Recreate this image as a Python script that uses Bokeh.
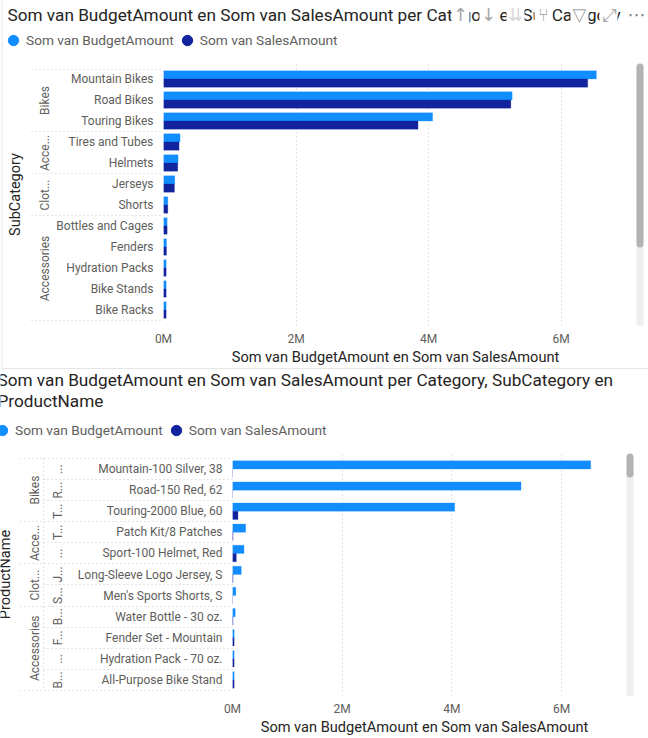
from bokeh.plotting import figure
from bokeh.layouts import column
from bokeh.embed import file_html
from bokeh.resources import INLINE
from bokeh.core.properties import value
from bokeh.models import (ColumnDataSource, FactorRange, FixedTicker, Legend, LegendItem, Range1d)
from bokeh.transform import dodge
import math

FONT = "Roboto"
BLUE = "#118DFF"
NAVY = "#12239E"
TICK = "#605E5C"
DARK = "#252423"
SEP = "#C8C8C8"

TITLE_1 = "Som van BudgetAmount en Som van SalesAmount per Category en SubCategory"
TITLE_2 = "Som van BudgetAmount en Som van SalesAmount per Category, SubCategory en\nProductName"
X_TITLE = "Som van BudgetAmount en Som van SalesAmount"
SERIES = ["Som van BudgetAmount", "Som van SalesAmount"]
X_TICKS = [0, 2000000, 4000000, 6000000]
X_LABELS = ["0M", "2M", "4M", "6M"]

groups_1 = [("Bikes", 3), ("Acce...", 2), ("Clot...", 2), ("Accessories", 5)]
subcats_1 = ["Mountain Bikes", "Road Bikes", "Touring Bikes", "Tires and Tubes", "Helmets",
             "Jerseys", "Shorts", "Bottles and Cages", "Fenders", "Hydration Packs",
             "Bike Stands", "Bike Racks"]
budget_1 = [6530000, 5260000, 4060000, 250000, 220000, 170000, 65000, 55000, 45000, 40000, 40000, 40000]
sales_1 = [6400000, 5240000, 3840000, 235000, 215000, 165000, 65000, 55000, 45000, 40000, 40000, 40000]

groups_2 = [("Bikes", 3), ("Acce...", 2), ("Clot...", 2), ("Accessories", 4)]
subs_2 = ["...", "R...", "T...", "T...", "...", "J...", "S...", "B...", "F...", "...", "B..."]
products_2 = ["Mountain-100 Silver, 38", "Road-150 Red, 62", "Touring-2000 Blue, 60",
              "Patch Kit/8 Patches", "Sport-100 Helmet, Red", "Long-Sleeve Logo Jersey, S",
              "Men's Sports Shorts, S", "Water Bottle - 30 oz.", "Fender Set - Mountain",
              "Hydration Pack - 70 oz.", "All-Purpose Bike Stand"]
budget_2 = [6530000, 5260000, 4050000, 240000, 210000, 160000, 60000, 50000, 30000, 30000, 30000]
sales_2 = [0, 0, 100000, 10000, 70000, 10000, 0, 10000, 30000, 30000, 30000]

OFFSET = 369  # top of the second figure on the page


def build(factors, budget, sales, fw, fh, top, left, axis_name, pad, title_standoff):
    rng = FactorRange(factors=factors[::-1], range_padding=pad, range_padding_units="absolute",
                      factor_padding=0)
    p = figure(frame_width=fw, frame_height=fh, y_range=rng, x_range=(0, 7000000),
               output_backend="svg", toolbar_location=None,
               min_border_top=top, min_border_bottom=0,
               min_border_left=left, min_border_right=648 - left - fw)
    p.frame_align = False
    p.outline_line_color = None
    src = ColumnDataSource(dict(y=factors, budget=budget, sales=sales))
    p.hbar(y=dodge("y", 0.195, range=rng), right="budget", left=0, height=0.39, source=src,
           fill_color=BLUE, line_color=BLUE, line_alpha=0.25)
    p.hbar(y=dodge("y", -0.195, range=rng), right="sales", left=0, height=0.39, source=src,
           fill_color=NAVY, line_color=NAVY, line_alpha=0.25)

    p.xaxis.ticker = FixedTicker(ticks=X_TICKS)
    p.xaxis.major_label_overrides = dict(zip(X_TICKS, X_LABELS))
    p.xaxis.axis_line_color = None
    p.xaxis.major_tick_line_color = None
    p.xaxis.minor_tick_line_color = None
    p.xaxis.major_tick_out = 0
    p.xaxis.major_label_text_font = FONT
    p.xaxis.major_label_text_font_size = "12px"
    p.xaxis.major_label_text_color = TICK
    p.xaxis.major_label_standoff = 6
    p.xaxis.axis_label = X_TITLE
    p.xaxis.axis_label_text_font = FONT
    p.xaxis.axis_label_text_font_style = "normal"
    p.xaxis.axis_label_text_font_size = "14.6px"
    p.xaxis.axis_label_text_color = DARK
    p.xaxis.axis_label_standoff = -1

    ax = p.yaxis[0]
    ax.axis_line_color = None
    ax.major_tick_line_color = None
    ax.major_tick_out = 0
    ax.major_label_text_font = FONT
    ax.major_label_text_font_size = "12px"
    ax.major_label_text_color = TICK
    ax.major_label_standoff = 10
    if axis_name:
        ax.axis_label = axis_name
        ax.axis_label_text_font = FONT
        ax.axis_label_text_font_style = "normal"
        ax.axis_label_text_font_size = "14.5px"
        ax.axis_label_text_color = DARK
        ax.axis_label_standoff = title_standoff

    p.ygrid.grid_line_color = None
    p.xgrid.grid_line_color = SEP
    p.xgrid.grid_line_dash = "1 3"
    p.xgrid.ticker = FixedTicker(ticks=X_TICKS)
    return p


p1 = build(subcats_1, budget_1, sales_1, 464, 262, 63, 163, "SubCategory", 0.238, 29)
p2 = build(products_2, budget_2, sales_2, 384, 242, 453 - OFFSET, 232, None, 0.2375, 0)
p1.styles = {"position": "absolute", "top": "0px", "left": "0px"}
p2.styles = {"position": "absolute", "top": f"{OFFSET}px", "left": "0px"}

# transparent sheet over both charts, one unit per pixel of the page
deco = figure(width=648, height=738, x_range=Range1d(0, 648), y_range=Range1d(738, 0),
              output_backend="svg", toolbar_location=None, min_border=0)
deco.frame_align = False
deco.axis.visible = False
deco.grid.visible = False
deco.outline_line_color = None
deco.background_fill_alpha = 0
deco.border_fill_alpha = 0
deco.styles = {"position": "absolute", "top": "0px", "left": "0px", "z-index": "10"}


def txt(x, y, s, size="12px", color=TICK, angle=0, align="left", font=FONT):
    deco.text([x], [y], text=[s], angle=angle, text_font=value(font), text_font_size=size,
              text_color=color, text_align=align, text_baseline="middle", text_line_height=1.04)


def hsep(left, right, y):
    deco.line([left, right], [y, y], line_color=SEP, line_dash="1 3", line_width=1)


def bar(x0, x1, y0, y1, color, width=1, cap="butt"):
    deco.line([x0, x1], [y0, y1], line_color=color, line_width=width, line_cap=cap)


# titles
txt(7, 14, TITLE_1, size="17.2px", color=DARK)
txt(-3, 390, TITLE_2, size="17.2px", color=DARK)
txt(5, 574, "ProductName", size="14.5px", color=DARK, angle=math.pi / 2, align="center")

# category levels beside the axis
start = 0
for name, n in groups_1:
    txt(44, 68.5 + 21 * (start + n / 2), name, angle=math.pi / 2, align="center")
    start += n
start = 0
for name, n in groups_2:
    txt(34, 458 + 21.09 * (start + n / 2), name, angle=math.pi / 2, align="center")
    start += n
for i, name in enumerate(subs_2):
    txt(57, 458 + 21.09 * (i + 0.5), name, angle=math.pi / 2, align="center")

# separators of the category levels
for y in [69, 131, 173, 215, 320]:
    hsep(31, 163, y)
for y in [458, 521, 563, 606, 690]:
    hsep(20, 232, y)
for y in [479, 500, 542, 584, 627, 648, 669]:
    hsep(43, 232, y)
deco.line([43, 43], [458, 690], line_color=SEP, line_dash="1 3", line_width=1)

# scroll bars and visual border
bar(639.5, 639.5, 66.5, 322.5, "#EFEFEF", 7, "round")
bar(639.5, 639.5, 66.5, 243.5, "#B3B3B3", 7, "round")
bar(629.5, 629.5, 456.5, 692.5, "#EFEFEF", 7, "round")
bar(629.5, 629.5, 456.5, 473.5, "#B3B3B3", 7, "round")
bar(1.5, 1.5, 0, 368, "#E6E6E6")
bar(1, 648, 368, 368, "#E6E6E6")

# header icons of the visual
ICONS = [("↑", 460, "#A6A6A6"), ("↓", 488, "#A6A6A6"), ("⇊", 515, "#D9D9D9"), ("⑂", 543, "#A6A6A6"),
         ("▽", 579, "#A6A6A6"), ("⤢", 608, "#A6A6A6"), ("⋯", 636, "#808080")]
for ch, x, col in ICONS:
    deco.rect([x], [14], width=18, height=24, fill_color="white", line_color=None)
    txt(x, 14, ch, size="18px", color=col, align="center", font="DejaVu Sans")

# legends
dot_1 = deco.scatter([float("nan")], [float("nan")], size=11, marker="circle", color=BLUE)
dot_2 = deco.scatter([float("nan")], [float("nan")], size=11, marker="circle", color=NAVY)
for xy in [(0, 685), (-11, 295)]:
    deco.add_layout(Legend(items=[LegendItem(label=SERIES[0], renderers=[dot_1]),
                                  LegendItem(label=SERIES[1], renderers=[dot_2])],
                           orientation="horizontal", border_line_color=None, background_fill_alpha=0,
                           label_text_font=FONT, label_text_font_size="13.7px", label_text_color=TICK,
                           glyph_width=26, glyph_height=26, label_standoff=-11, spacing=-4, padding=0,
                           margin=0, location=xy), "center")

page = column(p1, p2, deco, spacing=0, width=648,
              styles={"position": "absolute", "top": "0px", "left": "0px", "height": "738px",
                      "overflow": "hidden"})
open("out.html", "w").write(file_html(page, INLINE))
